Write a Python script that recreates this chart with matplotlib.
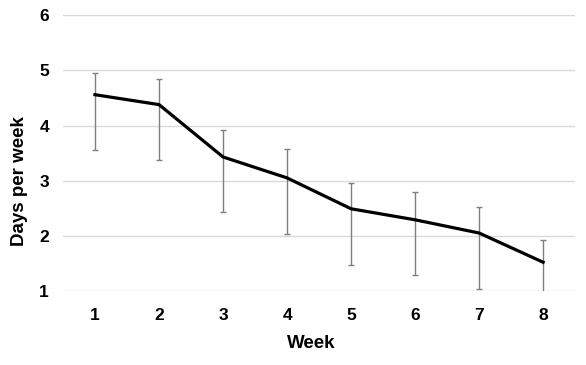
import numpy as np
import matplotlib.pyplot as plt

plt.rcParams['font.family'] = ['Liberation Sans', 'DejaVu Sans']

# Data
weeks = [1, 2, 3, 4, 5, 6, 7, 8]
days = [4.56, 4.38, 3.43, 3.05, 2.49, 2.29, 2.05, 1.52]
upper = [4.95, 4.85, 3.92, 3.57, 2.96, 2.79, 2.53, 1.93]
lower = [3.56, 3.38, 2.43, 2.04, 1.47, 1.28, 1.04, 0.95]

days = np.array(days)
yerr = [days - np.array(lower), np.array(upper) - days]

fig = plt.figure(figsize=(5.86, 3.65), dpi=100)
ax = fig.add_axes([0.1075, 0.203, 0.874, 0.755])

ax.errorbar(weeks, days, yerr=yerr, fmt='none', ecolor='#7f7f7f',
            elinewidth=1, capsize=2.5, capthick=1, zorder=2)
ax.plot(weeks, days, color='black', linewidth=2.3, zorder=3)

ax.set_xlim(0.5, 8.5)
ax.set_ylim(1, 6)
ax.set_xticks(weeks)
ax.set_yticks([1, 2, 3, 4, 5, 6])
ax.grid(axis='y', color='#d9d9d9', linewidth=1)
ax.set_axisbelow(True)
for s in ax.spines.values():
    s.set_visible(False)
ax.tick_params(length=0, labelsize=12.5)
ax.tick_params(axis='y', pad=10)
ax.tick_params(axis='x', pad=12)
for lab in ax.get_xticklabels() + ax.get_yticklabels():
    lab.set_fontweight('bold')

ax.set_xlabel("Week", fontsize=13.5, fontweight='bold')
ax.set_ylabel("Days per week", fontsize=13.5, fontweight='bold')
ax.xaxis.set_label_coords(0.485, -0.161)
ax.yaxis.set_label_coords(-0.068, 0.40)

fig.savefig("out.png", dpi=100)
